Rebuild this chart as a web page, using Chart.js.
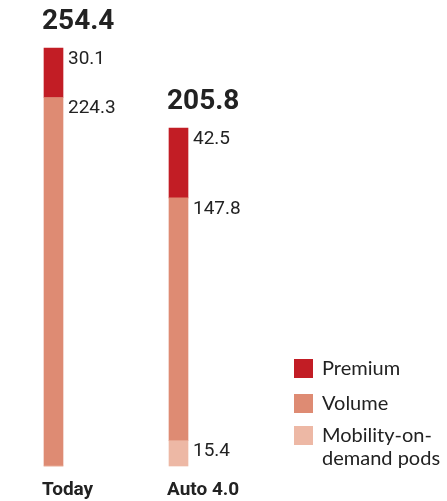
<!DOCTYPE html>
<html>
<head>
<meta charset="utf-8">
<script src="https://cdn.jsdelivr.net/npm/chart.js@4/dist/chart.umd.min.js"></script>
<style>
  html, body { margin: 0; padding: 0; background: #fff; }
  #wrap { width: 447px; height: 501px; position: relative; }
</style>
</head>
<body>
<div id="wrap"><canvas id="c"></canvas></div>
<script>
// Data
const categories = ['Today', 'Auto 4.0'];
const totals = [254.4, 205.8];
const premium = [30.1, 42.5];
const volume = [224.3, 147.8];
const mobilityPods = [0, 15.4];
const seriesNames = ['Premium', 'Volume', 'Mobility-on-demand pods'];
const legendLines = [['Premium'], ['Volume'], ['Mobility-on-', 'demand pods']];

const COLORS = { premium: '#C21D25', volume: '#DE8B73', mobility: '#EDB8A5' };
const TEXT = '#222222';

// Value labels, totals, category names and legend drawn on top of the bars
const annotate = {
  id: 'annotate',
  afterDatasetsDraw(chart) {
    const ctx = chart.ctx;
    ctx.save();
    ctx.fillStyle = TEXT;
    ctx.textAlign = 'left';
    ctx.textBaseline = 'middle';

    // segment values, to the right of each segment near its top
    ctx.font = '19px Roboto';
    chart.data.datasets.forEach((ds, di) => {
      const meta = chart.getDatasetMeta(di);
      meta.data.forEach((bar, i) => {
        const v = ds.data[i];
        if (!v) return;
        ctx.fillText(v.toFixed(1), bar.x + bar.width / 2 + 5, bar.y + 11);
      });
    });

    // totals above each stack, and category names under it
    const topMeta = chart.getDatasetMeta(chart.data.datasets.length - 1);
    topMeta.data.forEach((bar, i) => {
      const left = bar.x - bar.width / 2 - 2;
      ctx.font = 'bold 28px Roboto';
      ctx.fillText(totals[i].toFixed(1), left, bar.y - 26);
      ctx.font = 'bold 19px Roboto';
      ctx.fillText(categories[i], left, 490);
    });

    // legend
    const legendColors = [COLORS.premium, COLORS.volume, COLORS.mobility];
    const boxTops = [359, 394, 426];
    ctx.font = '20px Lato';
    legendLines.forEach((lines, k) => {
      ctx.fillStyle = legendColors[k];
      ctx.fillRect(294, boxTops[k], 19, 19);
      ctx.fillStyle = TEXT;
      lines.forEach((t, j) => ctx.fillText(t, 322, boxTops[k] + 10 + j * 23));
    });
    ctx.restore();
  }
};

new Chart(document.getElementById('c'), {
  type: 'bar',
  data: {
    labels: categories,
    datasets: [
      { label: seriesNames[2], data: mobilityPods, backgroundColor: COLORS.mobility },
      { label: seriesNames[1], data: volume, backgroundColor: COLORS.volume },
      { label: seriesNames[0], data: premium, backgroundColor: COLORS.premium }
    ].map(d => Object.assign(d, { barThickness: 19, borderWidth: 0, clip: false }))
  },
  options: {
    responsive: true,
    maintainAspectRatio: false,
    animation: false,
    layout: { padding: { left: 53.5, right: 268.5, top: 48, bottom: 35 } },
    plugins: { legend: { display: false }, tooltip: { enabled: false } },
    scales: {
      x: { stacked: true, offset: false, display: false },
      y: { stacked: true, min: 0, max: Math.max(...totals), display: false }
    }
  },
  plugins: [annotate]
});
</script>
</body>
</html>
